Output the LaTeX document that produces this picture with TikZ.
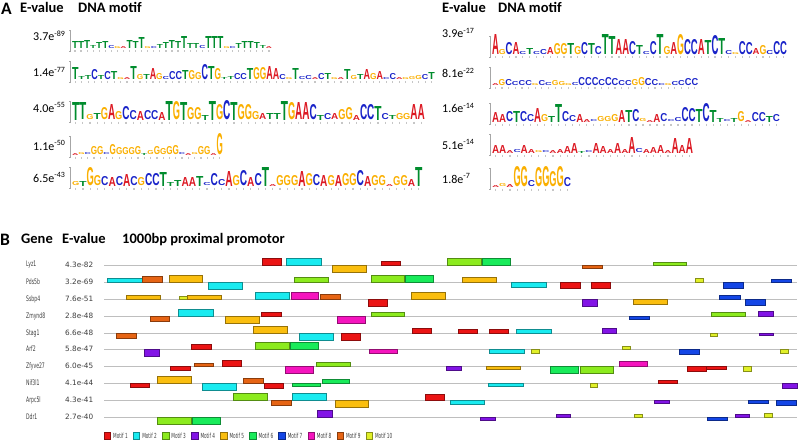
\documentclass[tikz,border=0pt]{standalone}
\usepackage{fontspec}
\setmainfont{Carlito}
\newfontfamily\logofont{Liberation Sans}
\newfontfamily\genefont[FakeStretch=0.6]{DejaVu Sans}
\newfontfamily\evfont{DejaVu Sans}
\usepackage{xcolor}
\usepackage{graphicx}
\usetikzlibrary{positioning}
\definecolor{logoA}{RGB}{220,25,35}
\definecolor{logoC}{RGB}{25,35,200}
\definecolor{logoG}{RGB}{250,175,0}
\definecolor{logoT}{RGB}{0,140,45}
\definecolor{mot1}{RGB}{235,20,20}
\definecolor{mot2}{RGB}{25,235,240}
\definecolor{mot3}{RGB}{140,235,30}
\definecolor{mot4}{RGB}{130,20,230}
\definecolor{mot5}{RGB}{250,190,15}
\definecolor{mot6}{RGB}{25,235,90}
\definecolor{mot7}{RGB}{20,70,230}
\definecolor{mot8}{RGB}{245,20,190}
\definecolor{mot9}{RGB}{230,100,20}
\definecolor{mot10}{RGB}{225,240,40}
\definecolor{trackgray}{RGB}{190,190,190}
\definecolor{labelgray}{RGB}{60,60,60}

% one sequence logo: name, x0, column width, baseline, letter/height list
\newcommand{\motiflogo}[5]{%
  \draw[logoaxis] ({#2-3},{#4-19}) -- ({#2-1.5},{#4-19}) -- ({#2-1.5},{#4+2}) -- ({#2-3},{#4+2});
  \foreach \l/\h [count=\i] in {#5} {
    \node[logoletter] (#1-\i) at ({#2+(\i-1)*#3},#4)
      {\resizebox{#3pt}{\h pt}{\textcolor{logo\l}{\logofont\bfseries\l}}};
    \draw[logotick] ({#2+(\i-0.5)*#3},{#4+1.5}) -- ++(0,2);
  }
}

% one promoter track: name, y, gene, E-value, motif/start/end/height list
\newcommand{\genetrack}[5]{%
  \node[genelabel] (#1) at (26,#2) {#3};
  \node[geneev] (#1-ev) at (65,#2) {#4};
  \draw[track] (104,#2) -- (797,#2);
  \foreach \m/\a/\b/\h in {#5}
    \draw[motbox=\m] (\a,#2) rectangle (\b,{#2-(\h)});
}

\begin{document}
\begin{tikzpicture}[x=1pt, y=-1pt,
  panel/.style={anchor=base west, inner sep=0pt, font=\fontsize{17.5}{18}\selectfont\bfseries},
  head/.style={anchor=base west, inner sep=0pt, font=\fontsize{14.5}{15}\selectfont\bfseries},
  evalue/.style={anchor=base west, inner sep=0pt, font=\fontsize{12}{13}\selectfont},
  logoletter/.style={anchor=south west, inner sep=0pt, outer sep=0pt},
  logoaxis/.style={draw=gray!70, line width=0.4pt},
  logotick/.style={draw=gray!45, line width=1.2pt},
  genelabel/.style={anchor=west, inner sep=0pt, text=labelgray, font=\genefont\fontsize{7.6}{8}\selectfont},
  geneev/.style={anchor=west, inner sep=0pt, text=labelgray, font=\evfont\fontsize{7.3}{8}\selectfont},
  track/.style={draw=trackgray, line width=0.8pt},
  motbox/.style={fill=mot#1, draw=mot#1!60!black, line width=0.4pt},
  legendlabel/.style={anchor=west, inner sep=0pt, text=labelgray, font=\genefont\fontsize{7}{8}\selectfont}
]
  \useasboundingbox (0,0) rectangle (799,441);

  % Panel A headers
  \node[panel] (lblA) at (1,15) {A};
  \node[head] (evA) at (20,13) {E-value};
  \node[head] (dnaA) at (78,13) {DNA motif};
  \node[head] (evA2) at (442,13) {E-value};
  \node[head] (dnaA2) at (498,13) {DNA motif};

  % E-values, left column
  \node[evalue] (evL1) at (33,41)  {3.7e\textsuperscript{-89}};
  \node[evalue] (evL2) at (33,77)  {1.4e\textsuperscript{-77}};
  \node[evalue] (evL3) at (33,112) {4.0e\textsuperscript{-55}};
  \node[evalue] (evL4) at (33,150) {1.1e\textsuperscript{-50}};
  \node[evalue] (evL5) at (33,182) {6.5e\textsuperscript{-43}};

  % E-values, right column
  \node[evalue] (evR1) at (442,38)  {3.9e\textsuperscript{-17}};
  \node[evalue] (evR2) at (442,78)  {8.1e\textsuperscript{-22}};
  \node[evalue] (evR3) at (442,113) {1.6e\textsuperscript{-14}};
  \node[evalue] (evR4) at (442,149) {5.1e\textsuperscript{-14}};
  \node[evalue] (evR5) at (442,183) {1.8e\textsuperscript{-7}};

  % Logos, left column
  \motiflogo{mL1}{72}{6.06}{49}{T/7,T/7,T/8,T/3,T/6,T/7,C/3,G/2,A/2,T/8,T/7,T/11,G/2,C/2,T/4,T/6,T/8,T/7,T/12,T/5,T/5,C/3,T/12,T/12,T/12,G/2,C/2,T/5,T/7,T/7,T/6,T/3,A/2}
  \motiflogo{mL2}{72}{6.48}{80}{T/12,T/3,T/4,C/10,T/4,C/8,T/8,G/2,A/2,T/13,G/5,T/5,A/11,G/6,C/3,C/8,C/8,T/9,G/9,G/7,C/15,T/13,G/11,T/2,T/3,C/6,C/6,T/11,G/12,G/12,A/13,A/11,C/5,G/2,T/11,C/3,C/4,A/2,C/6,T/6,G/2,A/2,T/10,G/4,T/5,A/10,G/6,A/8,C/2,C/6,A/2,G/2,G/3,G/4,C/5,T/7}
  \motiflogo{mL3}{72}{7.2}{120}{T/18,T/17,G/5,T/6,G/12,A/15,G/8,C/13,C/9,A/9,C/9,C/9,A/8,T/19,G/18,T/18,G/12,G/12,T/5,T/19,G/15,C/19,T/18,G/15,G/15,G/8,A/6,T/6,T/6,T/19,G/17,A/17,A/17,C/15,T/5,C/6,A/6,G/10,G/12,A/5,C/15,C/15,T/14,C/6,T/4,G/6,G/6,A/15,A/15}
  \motiflogo{mL4}{72}{6.29}{155}{A/2,G/2,C/2,G/8,G/8,C/2,G/10,G/7,G/7,G/7,G/8,T/2,G/4,G/8,G/6,G/8,G/9,C/2,A/2,G/2,G/8,G/8,A/2,G/21}
  \motiflogo{mL5}{72}{7.3}{186}{G/4,T/5,G/18,G/10,C/9,A/9,C/9,A/12,C/9,G/8,C/12,C/12,T/14,T/4,T/6,A/9,A/9,T/10,C/3,C/12,C/6,A/15,G/10,C/15,A/9,C/12,T/19,A/2,G/10,G/10,G/10,A/15,G/12,C/11,A/11,G/10,A/11,G/12,G/12,C/15,A/10,G/10,G/10,A/2,G/9,G/10,A/7,T/19}

  % Logos, right column
  \motiflogo{mR1}{492}{6.86}{55}{A/20,G/5,C/12,A/12,C/3,T/6,C/3,C/5,A/7,G/11,G/11,T/11,G/8,C/12,T/11,C/8,T/20,T/18,A/15,A/15,C/13,T/9,C/3,C/13,T/20,G/8,A/12,G/20,C/15,C/15,A/15,T/14,C/19,T/16,C/4,G/2,C/13,C/12,A/6,G/9,C/4,C/13,C/13}
  \motiflogo{mR2}{492}{6.65}{86}{A/2,G/6,C/6,C/4,C/5,C/5,G/2,C/5,C/3,G/5,G/4,G/2,C/3,C/8,C/8,C/8,C/6,C/8,C/7,C/5,C/5,G/6,G/8,C/7,C/6,C/2,G/2,C/4,C/5,C/7,C/7}
  \motiflogo{mR3}{492}{7.02}{122}{A/10,A/8,C/10,T/11,C/10,C/7,A/14,G/7,T/6,T/18,C/10,C/6,A/8,A/3,C/2,G/5,G/5,G/7,A/12,T/12,C/12,G/3,A/2,A/8,C/8,C/2,C/4,C/14,C/13,T/13,C/18,T/12,T/4,C/2,T/4,G/10,A/2,C/9,C/9,T/6,C/7}
  \motiflogo{mR4}{492}{7.18}{153}{A/8,A/8,A/3,C/3,A/8,A/4,G/2,C/2,A/3,A/4,A/7,A/10,T/2,C/2,A/10,A/7,A/4,A/10,A/4,A/16,C/4,A/4,A/6,A/8,A/3,A/15,A/8,A/15}
  \motiflogo{mR5}{492}{7.18}{187}{A/2,G/3,A/3,G/20,G/20,C/6,G/19,G/20,G/15,G/20,C/9}

  % Panel B headers
  \node[panel] (lblB) at (0,245) {B};
  \node[head] (geneB) at (21,243) {Gene};
  \node[head] (evB) at (62,243) {E-value};
  \node[head] (promB) at (122,243) {1000bp proximal promotor};

  % Promoter tracks
  \genetrack{lyz1}{265}{Lyz1}{4.3e-82}{1/262/281/7,2/286/321/7,5/332/366/-7,1/381/400/4,3/447/481/7,6/482/510/7,9/582/602/-3.5,3/653/686/3}
  \genetrack{pds5b}{282}{Pds5b}{3.2e-69}{2/107/142/3.5,9/142/162/6,5/169/202/7,2/208/242/-7,3/294/328/5,3/371/404/7,6/405/433/7,5/462/496/5,2/511/546/-5,1/560/580/-6,1/591/610/-6,10/695/703/4,7/723/743/-6,7/771/791/3}
  \genetrack{ssbp4}{299}{Ssbp4}{7.6e-51}{5/126/160/3.5,10/179/187/3,5/187/221/3.5,2/255/289/7,8/291/318/7,9/320/340/5,1/368/387/-7,5/411/445/7,4/582/597/-7,5/633/667/-5.5,7/719/740/4,7/745/765/-6}
  \genetrack{zmynd8}{316}{Zmynd8}{2.8e-48}{9/150/169/-5.5,2/178/213/7,5/225/259/-7.5,1/261/281/4,8/337/365/-7,3/371/404/3.5,7/629/649/-3,3/711/745/4,4/758/773/5}
  \genetrack{stag1}{333}{Stag1}{6.6e-48}{9/116/136/-5,5/253/287/7,2/299/333/-7,1/341/360/-7,1/412/431/5,1/458/477/4,1/489/508/4,2/516/551/4,4/602/616/5,10/710/717/-3,4/759/773/-2.5}
  \genetrack{arf2}{349}{Arf2}{5.8e-47}{4/144/159/-7,1/191/211/5,3/255/289/7,6/290/318/7,8/369/397/-4,2/489/524/-4.5,10/531/539/-4,10/622/630/2.5,7/679/699/-5,10/780/788/-4}
  \genetrack{zfyve27}{366}{Zfyve27}{6.0e-45}{1/170/190/-4,9/194/213/3,1/222/241/6,8/285/313/-7,3/316/350/4,4/446/461/-4,5/486/520/-3,6/550/578/-7,3/580/613/-7,8/619/647/5,1/687/706/-5.5,1/706/726/-3.5,10/743/751/-5}
  \genetrack{nif3l1}{383}{Nif3l1}{4.1e-44}{1/130/149/-4,5/157/191/7,2/202/236/-7,9/243/263/5,1/264/283/-5,6/292/320/-3.5,6/322/349/3.5,2/488/523/-3,10/590/597/-4,1/658/677/3,4/782/797/-5}
  \genetrack{arpc5l}{400}{Arpc5l}{4.3e-41}{3/233/267/7,9/271/291/-5,2/292/326/7,5/335/368/-7,1/425/444/5.5,2/450/484/-4,4/654/669/-3,7/748/768/-3.5,7/776/796/-5}
  \genetrack{ddr1}{417}{Ddr1}{2.7e-40}{3/157/191/-7,6/192/220/-7,4/317/332/7,4/480/495/-3,4/556/570/3.3,10/634/642/3.3,7/707/727/-3,4/735/749/3.3,10/764/772/4}

  % Legend
  \foreach \m [count=\i from 0] in {1,...,10} {
    \draw[motbox=\m] ({104+\i*29.1},432) rectangle ++(6.5,7);
    \node[legendlabel] (leg\m) at ({113+\i*29.1},435.5) {Motif \m};
  }
\end{tikzpicture}
\end{document}
